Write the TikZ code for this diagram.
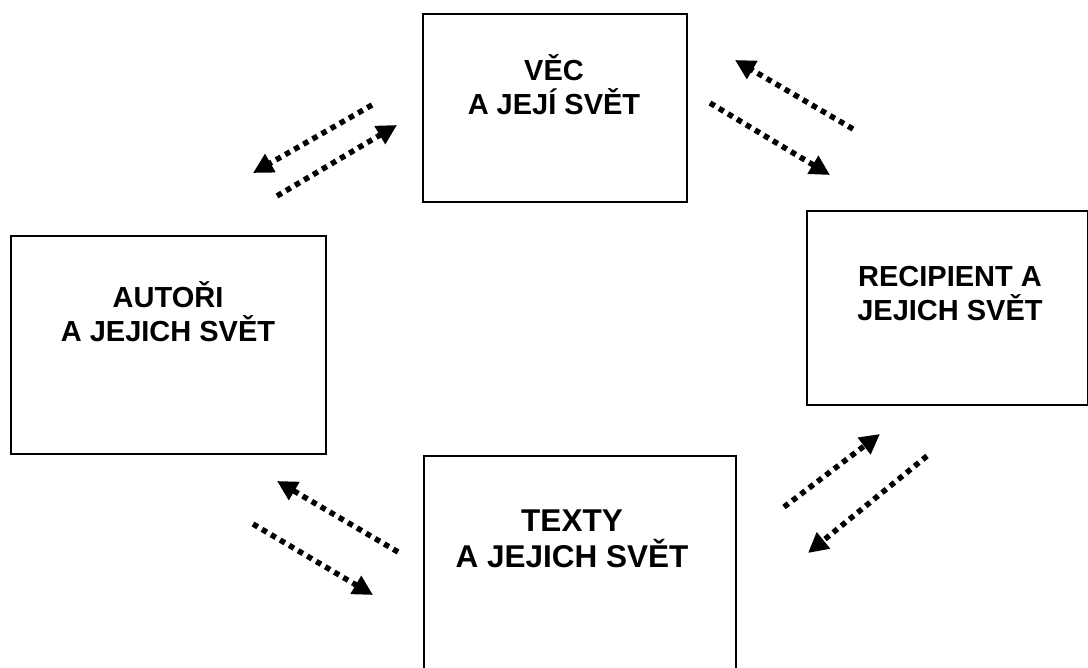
\documentclass[tikz,border=0pt]{standalone}
\usepackage{fontspec}
\setmainfont{Liberation Sans}
\usetikzlibrary{arrows.meta}
\begin{document}
\begin{tikzpicture}[x=1pt,y=-1pt,
  box/.style={draw=black,line width=2pt,rectangle,inner sep=0pt,anchor=north west},
  lbl/.style={align=center,anchor=base,font=\bfseries\fontsize{29}{34}\selectfont},
  lblbig/.style={align=center,anchor=base,font=\bfseries\fontsize{31.5}{36}\selectfont},
  flow/.style={line width=5.5pt,dash pattern=on 5.5pt off 5pt,-{Triangle[length=20pt,width=20pt]}}]
\clip (0,0) rectangle (1088,668);
\fill[white] (0,0) rectangle (1088,668);
% boxes
\node[box,minimum width=264pt,minimum height=188pt] (vec) at (422,13) {};
\node[box,minimum width=315pt,minimum height=218pt] (aut) at (10,235) {};
\node[box,minimum width=281pt,minimum height=194pt] (rec) at (806,210) {};
\node[box,minimum width=312pt,minimum height=240pt] (tex) at (423,455) {};
% labels
\node[lbl] (vect) at (554,115) {VĚC\\A JEJÍ SVĚT};
\node[lbl] (autt) at (168,342) {AUTOŘI\\A JEJICH SVĚT};
\node[lbl] (rect) at (950,321) {RECIPIENT A\\JEJICH SVĚT};
\node[lblbig] (text) at (572,567) {TEXTY\\A JEJICH SVĚT};
% arrow end points
\coordinate (a1s) at (372,105); \coordinate (a1e) at (253,173);
\coordinate (a2s) at (277,196); \coordinate (a2e) at (397,125);
\coordinate (b1s) at (853,129); \coordinate (b1e) at (735,60);
\coordinate (b2s) at (710,103); \coordinate (b2e) at (830,175);
\coordinate (c1s) at (398,552); \coordinate (c1e) at (277,481);
\coordinate (c2s) at (253,524); \coordinate (c2e) at (373,595);
\coordinate (d1s) at (784,507); \coordinate (d1e) at (880,434);
\coordinate (d2s) at (927,456); \coordinate (d2e) at (808,553);
\draw[flow] (a1s) -- (a1e);
\draw[flow] (a2s) -- (a2e);
\draw[flow] (b1s) -- (b1e);
\draw[flow] (b2s) -- (b2e);
\draw[flow] (c1s) -- (c1e);
\draw[flow] (c2s) -- (c2e);
\draw[flow] (d1s) -- (d1e);
\draw[flow] (d2s) -- (d2e);
\end{tikzpicture}
\end{document}
